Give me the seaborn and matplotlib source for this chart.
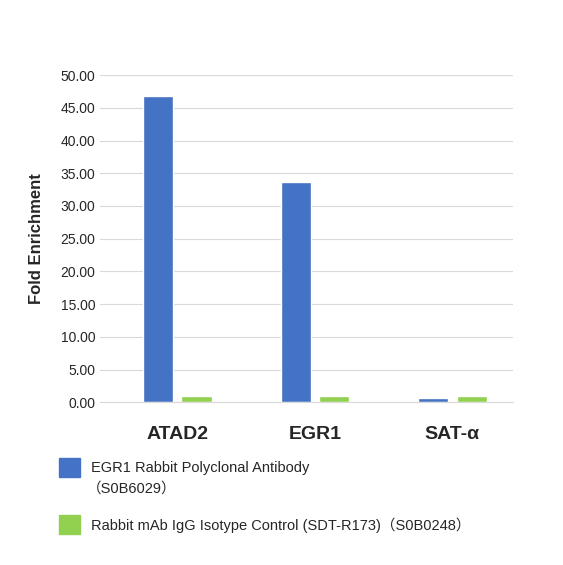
import pandas as pd
import matplotlib.pyplot as plt
import matplotlib.patches as mpatches
import seaborn as sns

targets = ['ATAD2', 'EGR1', 'SAT-α']
egr1_values = [46.8, 33.6, 0.7]
igg_values = [0.95, 0.95, 0.95]
series_names = ['EGR1 Rabbit Polyclonal Antibody\n（S0B6029）',
                'Rabbit mAb IgG Isotype Control (SDT-R173)（S0B0248）']
colors = ['#4472C4', '#92D050']

df = pd.DataFrame({
    'target': targets * 2,
    'value': egr1_values + igg_values,
    'series': [series_names[0]] * 3 + [series_names[1]] * 3,
})

sns.set_style('white')
plt.rcParams['font.family'] = ['Liberation Sans', 'Noto Sans CJK SC', 'DejaVu Sans']

fig = plt.figure(figsize=(5.63, 5.65), dpi=100)
ax = fig.add_axes([0.178, 0.288, 0.733, 0.579])
sns.barplot(data=df, x='target', y='value', hue='series', palette=colors,
            width=0.56, gap=0.22, saturation=1, legend=False, ax=ax)
ax.set_xlim(-0.56, 2.44)
ax.set_ylim(0, 50)
ax.set_yticks([i * 5 for i in range(11)])
ax.set_yticklabels([f'{i * 5:.2f}' for i in range(11)], fontsize=10)
ax.yaxis.grid(True, color='#D9D9D9', linewidth=0.8)
ax.set_axisbelow(True)
for s in ['top', 'right', 'left']:
    ax.spines[s].set_visible(False)
ax.spines['bottom'].set_color('#D9D9D9')
ax.tick_params(axis='both', length=0)
ax.tick_params(axis='x', labelsize=14, pad=17)
for lbl in ax.get_xticklabels():
    lbl.set_fontweight('bold')
ax.set_xlabel('')
ax.set_ylabel('Fold Enrichment', fontsize=12, fontweight='bold', labelpad=12)

legend_y = [0.152, 0.051]
for col, name, y in zip(colors, series_names, legend_y):
    fig.patches.append(mpatches.Rectangle((0.105, y + 0.003), 0.037, 0.035,
                                          color=col, transform=fig.transFigure))
    first = name.split('\n')
    fig.text(0.162, y + 0.02, first[0], fontsize=10.5, va='center')
    if len(first) > 1:
        fig.text(0.155, y - 0.017, first[1], fontsize=10.5, va='center')

fig.savefig('out.png', dpi=100)
